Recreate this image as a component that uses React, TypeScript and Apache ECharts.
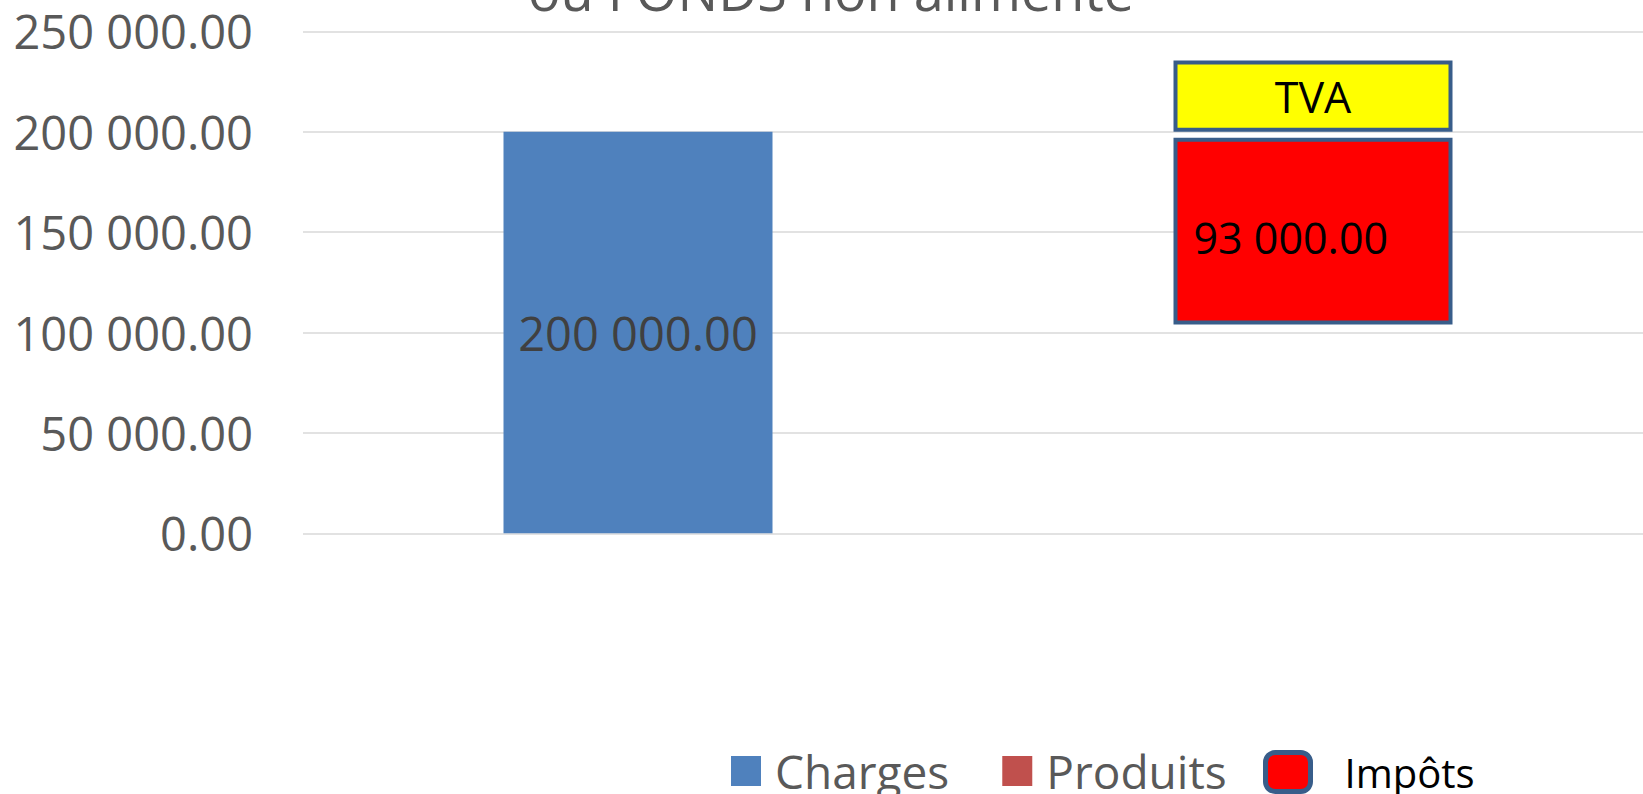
import React, { useEffect, useRef } from "react";
import * as echarts from "echarts";

const categories = ["", ""];
const charges = [200000, "-"];
const produits = ["-", "-"];
const impotsBase = ["-", 104000];
const impots = ["-", 93000];
const tvaBase = ["-", 3000];
const tva = ["-", 35500];
const yTicks = { min: 0, max: 250000, interval: 50000 };
const titleText = "ou FONDS non alimenté";

const FONT = "'Open Sans', 'Noto Sans', sans-serif";

function fmt(v: number): string {
  const s = Number(v).toFixed(2);
  const [i, d] = s.split(".");
  return i.replace(/\B(?=(\d{3})+(?!\d))/g, " ") + "." + d;
}

export default function App() {
  const ref = useRef<HTMLDivElement>(null);
  useEffect(() => {
    if (!ref.current) return;
    const chart = echarts.init(ref.current, null, { renderer: "svg" });
    const border = "#385D8A";
    chart.setOption({
      animation: false,
      textStyle: { fontFamily: FONT },
      grid: { left: 303, right: -2, top: 31.3, bottom: 260.7, containLabel: false },
      graphic: [
        {
          type: "text",
          x: 831,
          y: -10,
          style: {
            text: titleText,
            fill: "#595959",
            font: `54px ${FONT}`,
            align: "center",
            verticalAlign: "middle",
          },
        },
      ],
      legend: [
        {
          data: ["Charges", "Produits"],
          left: 731,
          top: 748,
          padding: 0,
          itemWidth: 30,
          itemHeight: 30,
          itemGap: 53,
          icon: "rect",
          selectedMode: false,
          textStyle: { fontSize: 46, color: "#595959", fontFamily: FONT, padding: [0, 0, 0, 9] },
        },
        {
          data: [
            {
              name: "Impôts",
              icon: "roundRect",
              itemStyle: { borderColor: border, borderWidth: 5, color: "#FF0000" },
            },
          ],
          left: 1263,
          top: 750,
          padding: 0,
          itemWidth: 45,
          itemHeight: 39,
          selectedMode: false,
          textStyle: { fontSize: 40, color: "#000000", fontFamily: FONT, padding: [0, 0, 0, 29] },
        },
      ],
      xAxis: {
        type: "category",
        data: categories,
        axisLine: { show: false },
        axisTick: { show: false },
        axisLabel: { show: false },
      },
      yAxis: {
        type: "value",
        min: yTicks.min,
        max: yTicks.max,
        interval: yTicks.interval,
        axisLine: { show: false },
        axisTick: { show: false },
        splitLine: { lineStyle: { color: "#D9D9D9", width: 1.5 } },
        axisLabel: {
          fontSize: 47,
          color: "#595959",
          fontFamily: FONT,
          margin: 50,
          formatter: (v: number) => fmt(v),
        },
      },
      series: [
        {
          name: "baseImpots",
          type: "bar",
          stack: "b",
          barWidth: 279,
          barGap: "-100%",
          data: impotsBase,
          itemStyle: { color: "transparent" },
          silent: true,
        },
        {
          name: "Impôts",
          type: "bar",
          stack: "b",
          barWidth: 279,
          barGap: "-100%",
          data: impots,
          itemStyle: { color: "#FF0000", borderColor: border, borderWidth: 4 },
          label: {
            show: true,
            position: "insideLeft",
            distance: 20,
            offset: [0, 6],
            fontSize: 43,
            color: "#000000",
            fontFamily: FONT,
            formatter: (p: any) => fmt(p.value),
          },
        },
        {
          name: "baseTVA",
          type: "bar",
          stack: "b",
          barWidth: 279,
          barGap: "-100%",
          data: tvaBase,
          itemStyle: { color: "transparent" },
          silent: true,
        },
        {
          name: "TVA",
          type: "bar",
          stack: "b",
          barWidth: 279,
          barGap: "-100%",
          data: tva,
          itemStyle: { color: "#FFFF00", borderColor: border, borderWidth: 4 },
          label: {
            show: true,
            position: "inside",
            fontSize: 43,
            color: "#000000",
            fontFamily: FONT,
            formatter: "TVA",
          },
        },
        {
          name: "Charges",
          type: "bar",
          stack: "a",
          barWidth: 269,
          barGap: "-100%",
          data: charges,
          itemStyle: { color: "#4F81BD" },
          label: {
            show: true,
            position: "inside",
            fontSize: 47,
            color: "#404040",
            fontFamily: FONT,
            formatter: (p: any) => fmt(p.value),
          },
        },
        {
          name: "Produits",
          type: "bar",
          stack: "a",
          barWidth: 269,
          barGap: "-100%",
          data: produits,
          itemStyle: { color: "#C0504D" },
        },
      ],
    });
    return () => chart.dispose();
  }, []);
  return (
    <div
      ref={ref}
      style={{ position: "fixed", left: 0, top: 0, width: 1643, height: 794, background: "#fff" }}
    />
  );
}
